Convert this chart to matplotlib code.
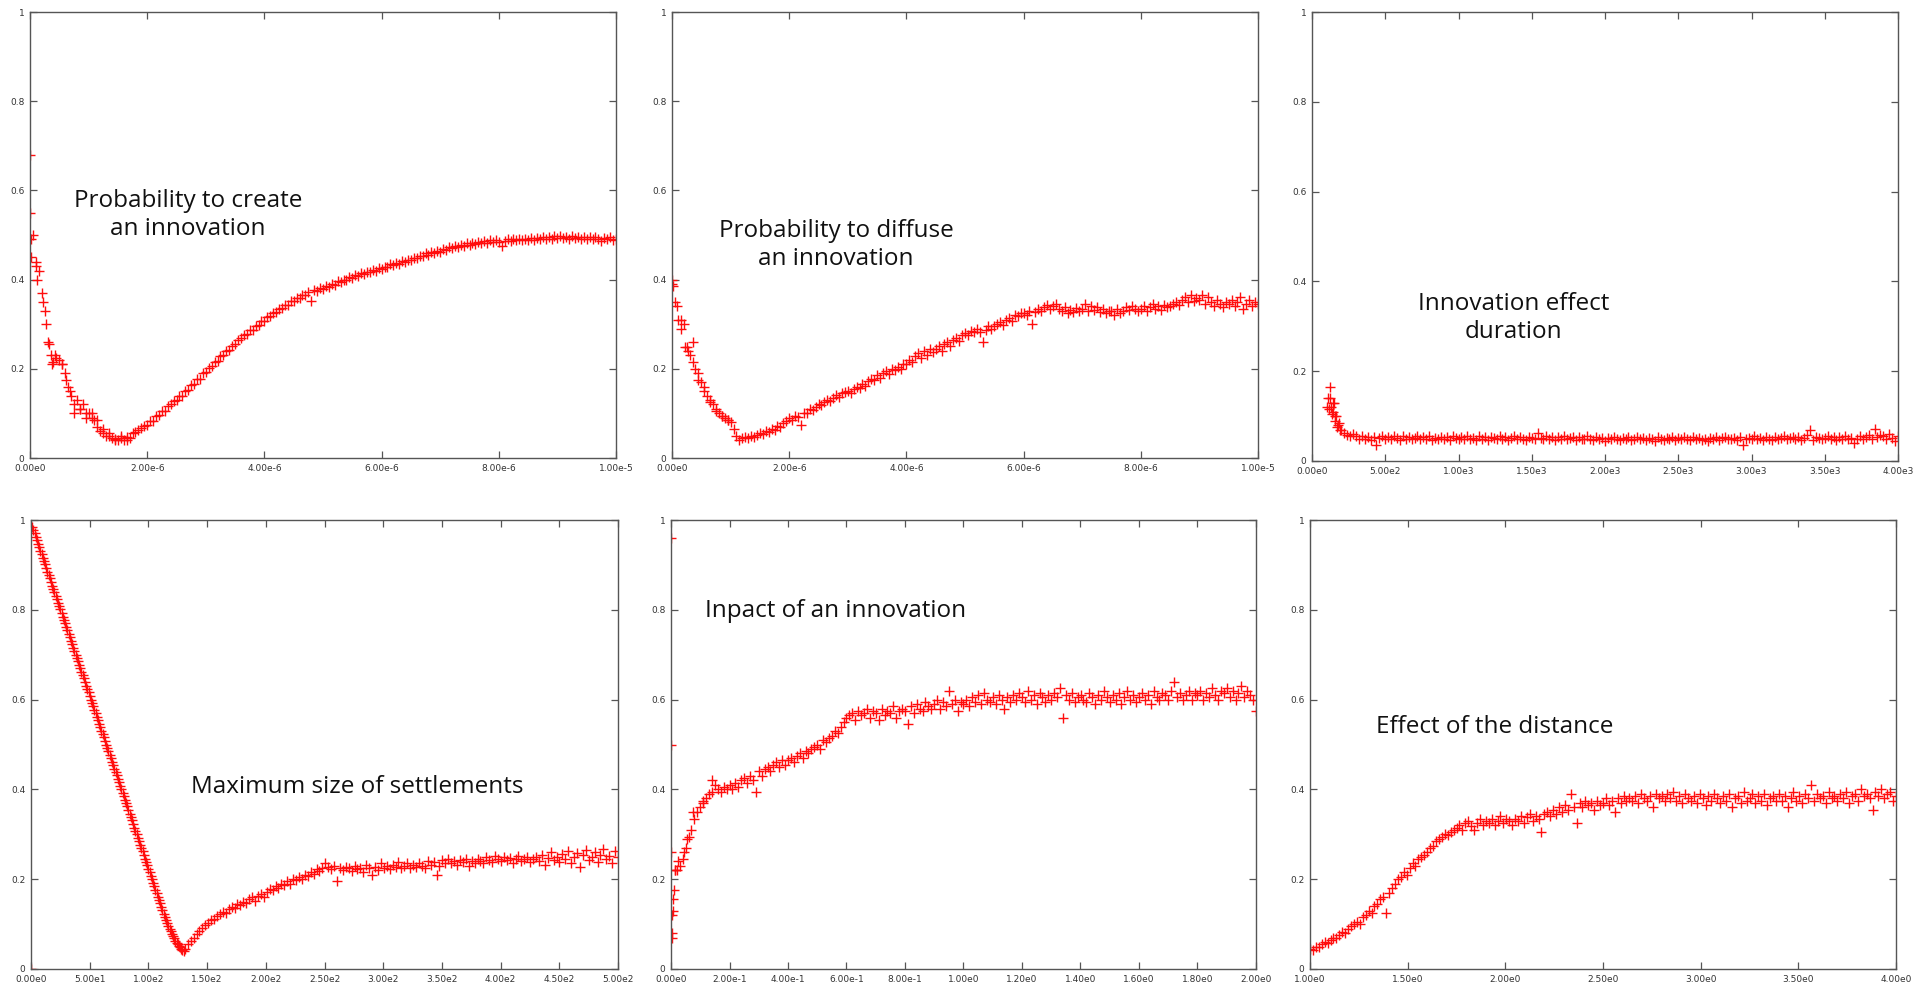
#%% IMPORTS               ~~~~~~~~~~~~~~~~~~~~~~~~~~~~~~~~~~~~~~~~~~~~
import matplotlib
matplotlib.use('Agg')
import matplotlib.pyplot as plt
import numpy as np

#%% DATA               ~~~~~~~~~~~~~~~~~~~~~~~~~~~~~~~~~~~~~~~~~~~~
# Every panel is a parameter sweep; y values.

# Probability to create an innovation (sweep 0 .. 1e-5, 201 steps)
create_y = [
    0.68, 0.50, 0.44, 0.42, 0.37, 0.33, 0.26, 0.23, 0.215, 0.225,
    0.22, 0.21, 0.19, 0.16, 0.14, 0.12, 0.13, 0.11, 0.12, 0.10,
    0.10, 0.09, 0.085, 0.07, 0.06, 0.055, 0.05, 0.05, 0.045, 0.042,
    0.04, 0.045, 0.04, 0.048, 0.045, 0.055, 0.058, 0.062, 0.068, 0.072,
    0.075, 0.084, 0.083, 0.094, 0.096, 0.106, 0.106, 0.117, 0.12, 0.128,
    0.13, 0.138, 0.14, 0.15, 0.153, 0.164, 0.166, 0.177, 0.178, 0.19,
    0.193, 0.202, 0.206, 0.216, 0.218, 0.228, 0.23, 0.24, 0.243, 0.252,
    0.255, 0.264, 0.268, 0.276, 0.278, 0.287, 0.288, 0.297, 0.298, 0.307,
    0.308, 0.316, 0.318, 0.326, 0.328, 0.335, 0.336, 0.344, 0.343, 0.352,
    0.351, 0.358, 0.358, 0.366, 0.365, 0.372, 0.352, 0.376, 0.374, 0.381,
    0.378, 0.385, 0.384, 0.39, 0.389, 0.396, 0.394, 0.4, 0.399, 0.405,
    0.403, 0.41, 0.408, 0.414, 0.412, 0.418, 0.416, 0.422, 0.419, 0.425,
    0.423, 0.429, 0.428, 0.434, 0.432, 0.438, 0.436, 0.442, 0.44, 0.445,
    0.443, 0.449, 0.448, 0.454, 0.453, 0.459, 0.456, 0.462, 0.46, 0.465,
    0.463, 0.469, 0.467, 0.472, 0.47, 0.476, 0.473, 0.478, 0.476, 0.481,
    0.478, 0.483, 0.48, 0.485, 0.482, 0.487, 0.483, 0.488, 0.484, 0.489,
    0.485, 0.476, 0.486, 0.49, 0.487, 0.491, 0.488, 0.492, 0.488, 0.492,
    0.489, 0.493, 0.488, 0.494, 0.49, 0.495, 0.49, 0.496, 0.491, 0.497,
    0.494, 0.497, 0.493, 0.496, 0.492, 0.497, 0.493, 0.496, 0.491, 0.496,
    0.491, 0.495, 0.49, 0.495, 0.492, 0.486, 0.494, 0.49, 0.495, 0.489, 0.492,
]
create_extra_x = [0.0, 0.01e-6, 0.02e-6, 0.1e-6, 0.12e-6, 0.22e-6, 0.27e-6, 0.32e-6,
                  0.37e-6, 0.42e-6, 0.55e-6, 0.62e-6, 0.68e-6, 0.75e-6, 0.85e-6,
                  0.95e-6, 1.05e-6, 1.15e-6, 1.25e-6, 1.35e-6, 1.45e-6, 1.55e-6, 1.65e-6]
create_extra_y = [0.55, 0.49, 0.45, 0.43, 0.40, 0.35, 0.30, 0.255,
                  0.21, 0.23, 0.21, 0.175, 0.15, 0.10, 0.11,
                  0.09, 0.10, 0.085, 0.065, 0.055, 0.04, 0.05, 0.04]

# Probability to diffuse an innovation (sweep 0 .. 1e-5, 201 steps)
diffuse_y = [
    0.39, 0.35, 0.31, 0.29, 0.30, 0.25, 0.23, 0.26, 0.20, 0.19,
    0.17, 0.15, 0.14, 0.13, 0.12, 0.105, 0.10, 0.095, 0.09, 0.085,
    0.08, 0.065, 0.05, 0.04, 0.045, 0.048, 0.044, 0.05, 0.047, 0.052,
    0.055, 0.053, 0.06, 0.058, 0.065, 0.062, 0.072, 0.07, 0.078, 0.082,
    0.09, 0.085, 0.095, 0.092, 0.075, 0.102, 0.1, 0.11, 0.107, 0.115,
    0.12, 0.118, 0.125, 0.13, 0.128, 0.135, 0.142, 0.137, 0.145, 0.148,
    0.15, 0.145, 0.155, 0.16, 0.158, 0.165, 0.162, 0.172, 0.178, 0.175,
    0.185, 0.18, 0.19, 0.195, 0.188, 0.2, 0.197, 0.205, 0.2, 0.21,
    0.21, 0.22, 0.215, 0.228, 0.235, 0.225, 0.24, 0.232, 0.245, 0.238,
    0.245, 0.252, 0.24, 0.256, 0.26, 0.252, 0.265, 0.27, 0.262, 0.275,
    0.28, 0.275, 0.285, 0.282, 0.29, 0.283, 0.26, 0.288, 0.295, 0.29,
    0.295, 0.3, 0.305, 0.298, 0.31, 0.315, 0.308, 0.32, 0.318, 0.325,
    0.325, 0.32, 0.33, 0.3, 0.328, 0.335, 0.33, 0.338, 0.342, 0.335,
    0.34, 0.345, 0.335, 0.33, 0.338, 0.325, 0.332, 0.328, 0.336, 0.33,
    0.335, 0.345, 0.33, 0.34, 0.332, 0.338, 0.328, 0.335, 0.325, 0.33,
    0.33, 0.32, 0.335, 0.325, 0.33, 0.338, 0.332, 0.34, 0.335, 0.33,
    0.335, 0.34, 0.33, 0.338, 0.345, 0.335, 0.34, 0.332, 0.342, 0.338,
    0.34, 0.345, 0.35, 0.342, 0.355, 0.36, 0.35, 0.365, 0.352, 0.358,
    0.355, 0.365, 0.345, 0.36, 0.35, 0.34, 0.355, 0.345, 0.338, 0.35,
    0.345, 0.355, 0.34, 0.35, 0.36, 0.335, 0.345, 0.355, 0.34, 0.35, 0.345,
]
diffuse_extra_x = [0.0, 0.02e-6, 0.08e-6, 0.15e-6, 0.22e-6, 0.28e-6, 0.35e-6,
                   0.45e-6, 0.55e-6, 0.65e-6, 0.75e-6, 0.85e-6, 0.95e-6]
diffuse_extra_y = [0.40, 0.385, 0.34, 0.31, 0.25, 0.24, 0.215,
                   0.175, 0.16, 0.125, 0.11, 0.095, 0.085]

# Innovation effect duration (sweep 100 .. 4000, 196 steps)
duration_y = [
    0.12, 0.165, 0.13, 0.10, 0.08, 0.07, 0.062, 0.058, 0.055, 0.06,
    0.055, 0.048, 0.056, 0.05, 0.053, 0.047, 0.054, 0.036, 0.052, 0.056,
    0.05, 0.054, 0.048, 0.056, 0.051, 0.047, 0.055, 0.05, 0.053, 0.049,
    0.052, 0.056, 0.048, 0.053, 0.05, 0.055, 0.047, 0.052, 0.05, 0.054,
    0.049, 0.053, 0.046, 0.055, 0.051, 0.048, 0.054, 0.05, 0.056, 0.049,
    0.052, 0.047, 0.055, 0.05, 0.053, 0.046, 0.054, 0.051, 0.049, 0.056,
    0.05, 0.054, 0.047, 0.052, 0.055, 0.048, 0.053, 0.05, 0.046, 0.054,
    0.051, 0.049, 0.063, 0.052, 0.048, 0.055, 0.05, 0.053, 0.047, 0.054,
    0.05, 0.056, 0.048, 0.052, 0.054, 0.047, 0.053, 0.05, 0.049, 0.055,
    0.05, 0.047, 0.053, 0.049, 0.052, 0.045, 0.051, 0.048, 0.054, 0.05,
    0.047, 0.052, 0.049, 0.053, 0.046, 0.05, 0.054, 0.048, 0.051, 0.047,
    0.052, 0.049, 0.045, 0.053, 0.05, 0.047, 0.052, 0.048, 0.054, 0.046,
    0.051, 0.048, 0.053, 0.05, 0.047, 0.054, 0.049, 0.052, 0.046, 0.05,
    0.044, 0.052, 0.049, 0.054, 0.047, 0.051, 0.053, 0.048, 0.05, 0.052,
    0.047, 0.054, 0.036, 0.05, 0.052, 0.048, 0.055, 0.049, 0.051, 0.047,
    0.053, 0.05, 0.046, 0.054, 0.049, 0.052, 0.056, 0.048, 0.051, 0.054,
    0.049, 0.053, 0.047, 0.052, 0.058, 0.068, 0.046, 0.054, 0.051, 0.048,
    0.052, 0.056, 0.049, 0.054, 0.047, 0.053, 0.05, 0.055, 0.048, 0.052,
    0.04, 0.05, 0.055, 0.048, 0.053, 0.057, 0.05, 0.072, 0.054, 0.058,
    0.055, 0.05, 0.06, 0.052, 0.045, 0.056,
]
duration_extra_x = [110, 115, 125, 130, 135, 145, 150, 155, 165, 170, 185, 190]
duration_extra_y = [0.14, 0.115, 0.14, 0.12, 0.105, 0.11, 0.13, 0.09, 0.1, 0.075, 0.085, 0.07]

# Maximum size of settlements: falling branch (0 .. 130, step 1)
settle_fall_y = [
    0.0,
    0.985, 0.978, 0.970, 0.962, 0.955, 0.947, 0.939, 0.931, 0.924, 0.916,
    0.908, 0.901, 0.893, 0.885, 0.878, 0.870, 0.862, 0.854, 0.847, 0.839,
    0.831, 0.824, 0.816, 0.808, 0.801, 0.793, 0.785, 0.777, 0.770, 0.762,
    0.754, 0.747, 0.739, 0.731, 0.724, 0.716, 0.708, 0.700, 0.693, 0.685,
    0.677, 0.670, 0.662, 0.654, 0.647, 0.639, 0.631, 0.623, 0.616, 0.608,
    0.600, 0.593, 0.585, 0.577, 0.570, 0.562, 0.554, 0.546, 0.539, 0.531,
    0.523, 0.516, 0.508, 0.500, 0.493, 0.485, 0.477, 0.469, 0.462, 0.454,
    0.446, 0.439, 0.431, 0.423, 0.416, 0.408, 0.400, 0.392, 0.385, 0.377,
    0.369, 0.362, 0.354, 0.346, 0.339, 0.331, 0.323, 0.315, 0.308, 0.300,
    0.292, 0.285, 0.277, 0.269, 0.262, 0.254, 0.246, 0.238, 0.231, 0.223,
    0.215, 0.208, 0.200, 0.192, 0.185, 0.177, 0.169, 0.161, 0.154, 0.146,
    0.138, 0.131, 0.123, 0.116, 0.109, 0.102, 0.096, 0.090, 0.084, 0.078,
    0.073, 0.068, 0.063, 0.059, 0.055, 0.051, 0.048, 0.045, 0.042, 0.040,
]
# rising branch (131 .. 500, 149 steps)
settle_rise_y = [
    0.045, 0.055, 0.062, 0.07, 0.078, 0.085, 0.092, 0.098, 0.103, 0.11,
    0.112, 0.118, 0.122, 0.127, 0.125, 0.133, 0.138, 0.135, 0.145, 0.142,
    0.15, 0.147, 0.155, 0.16, 0.152, 0.163, 0.168, 0.16, 0.172, 0.178,
    0.175, 0.185, 0.18, 0.19, 0.186, 0.195, 0.19, 0.2, 0.198, 0.205,
    0.2, 0.21, 0.207, 0.215, 0.212, 0.222, 0.218, 0.225, 0.235, 0.228,
    0.222, 0.23, 0.195, 0.226, 0.22, 0.228, 0.224, 0.218, 0.23, 0.222,
    0.226, 0.215, 0.232, 0.225, 0.21, 0.228, 0.22, 0.235, 0.224, 0.23,
    0.222, 0.232, 0.228, 0.238, 0.225, 0.23, 0.235, 0.226, 0.232, 0.228,
    0.236, 0.23, 0.225, 0.24, 0.232, 0.238, 0.21, 0.23, 0.242, 0.236,
    0.245, 0.235, 0.24, 0.232, 0.243, 0.238, 0.245, 0.23, 0.24, 0.236,
    0.245, 0.24, 0.235, 0.25, 0.243, 0.238, 0.252, 0.245, 0.24, 0.25,
    0.242, 0.248, 0.235, 0.245, 0.252, 0.24, 0.246, 0.25, 0.238, 0.244,
    0.25, 0.24, 0.255, 0.232, 0.248, 0.26, 0.242, 0.25, 0.238, 0.256,
    0.245, 0.262, 0.235, 0.25, 0.258, 0.228, 0.254, 0.265, 0.242, 0.25,
    0.26, 0.238, 0.255, 0.268, 0.245, 0.252, 0.235, 0.262, 0.25,
]

# Inpact of an innovation (sweep 0 .. 2, 201 steps)
impact_y = [
    0.50, 0.175, 0.22, 0.23, 0.245, 0.27, 0.295, 0.31, 0.335, 0.35,
    0.36, 0.375, 0.38, 0.39, 0.395, 0.41, 0.40, 0.395, 0.405, 0.40,
    0.41, 0.40, 0.415, 0.405, 0.42, 0.425, 0.415, 0.43, 0.42, 0.395,
    0.44, 0.43, 0.445, 0.45, 0.44, 0.455, 0.46, 0.45, 0.465, 0.455,
    0.465, 0.47, 0.46, 0.475, 0.48, 0.47, 0.485, 0.48, 0.49, 0.495,
    0.50, 0.49, 0.51, 0.505, 0.515, 0.52, 0.53, 0.525, 0.54, 0.55,
    0.56, 0.565, 0.57, 0.555, 0.575, 0.565, 0.57, 0.58, 0.56, 0.575,
    0.57, 0.555, 0.58, 0.565, 0.575, 0.57, 0.585, 0.56, 0.575, 0.58,
    0.575, 0.545, 0.585, 0.57, 0.59, 0.58, 0.575, 0.595, 0.585, 0.58,
    0.59, 0.6, 0.58, 0.595, 0.585, 0.62, 0.59, 0.6, 0.575, 0.595,
    0.59, 0.6, 0.585, 0.605, 0.595, 0.61, 0.59, 0.615, 0.6, 0.595,
    0.605, 0.59, 0.61, 0.6, 0.58, 0.605, 0.595, 0.61, 0.6, 0.615,
    0.605, 0.595, 0.62, 0.6, 0.61, 0.59, 0.615, 0.605, 0.595, 0.61,
    0.6, 0.615, 0.605, 0.625, 0.56, 0.61, 0.6, 0.615, 0.595, 0.605,
    0.61, 0.6, 0.595, 0.615, 0.605, 0.59, 0.61, 0.6, 0.62, 0.605,
    0.595, 0.61, 0.6, 0.615, 0.59, 0.605, 0.62, 0.6, 0.61, 0.595,
    0.605, 0.615, 0.6, 0.61, 0.59, 0.62, 0.605, 0.6, 0.615, 0.61,
    0.6, 0.62, 0.64, 0.605, 0.615, 0.6, 0.61, 0.62, 0.6, 0.615,
    0.61, 0.62, 0.6, 0.615, 0.605, 0.625, 0.61, 0.6, 0.62, 0.615,
    0.625, 0.605, 0.62, 0.6, 0.615, 0.63, 0.605, 0.62, 0.61, 0.6, 0.575,
]
impact_extra_x = [0.0, 0.0, 0.002, 0.003, 0.005, 0.006, 0.008, 0.012, 0.015,
                  0.025, 0.045, 0.055, 0.075, 0.11, 0.14]
impact_extra_y = [0.96, 0.26, 0.08, 0.07, 0.12, 0.13, 0.155, 0.22, 0.22,
                  0.24, 0.26, 0.29, 0.35, 0.37, 0.42]

# Effect of the distance (sweep 1 .. 4, 201 steps)
distance_y = [
    0.045, 0.042, 0.05, 0.048, 0.055, 0.06, 0.058, 0.065, 0.07, 0.068,
    0.075, 0.082, 0.08, 0.09, 0.095, 0.1, 0.105, 0.1, 0.115, 0.12,
    0.13, 0.125, 0.14, 0.145, 0.155, 0.16, 0.125, 0.17, 0.18, 0.19,
    0.2, 0.205, 0.215, 0.21, 0.225, 0.235, 0.23, 0.245, 0.25, 0.255,
    0.26, 0.27, 0.275, 0.285, 0.29, 0.295, 0.3, 0.298, 0.305, 0.31,
    0.315, 0.32, 0.31, 0.325, 0.33, 0.318, 0.31, 0.325, 0.335, 0.32,
    0.33, 0.325, 0.335, 0.32, 0.33, 0.34, 0.325, 0.335, 0.33, 0.32,
    0.335, 0.33, 0.34, 0.325, 0.338, 0.345, 0.33, 0.34, 0.335, 0.305,
    0.345, 0.35, 0.34, 0.355, 0.345, 0.36, 0.35, 0.365, 0.355, 0.39,
    0.36, 0.325, 0.37, 0.36, 0.375, 0.365, 0.37, 0.355, 0.375, 0.365,
    0.37, 0.38, 0.365, 0.375, 0.35, 0.38, 0.37, 0.385, 0.375, 0.38,
    0.375, 0.385, 0.37, 0.39, 0.38, 0.375, 0.385, 0.36, 0.39, 0.38,
    0.385, 0.375, 0.39, 0.38, 0.395, 0.375, 0.385, 0.37, 0.39, 0.38,
    0.375, 0.385, 0.37, 0.39, 0.38, 0.365, 0.385, 0.375, 0.39, 0.38,
    0.37, 0.385, 0.375, 0.39, 0.36, 0.38, 0.385, 0.37, 0.395, 0.375,
    0.38, 0.39, 0.37, 0.385, 0.375, 0.39, 0.365, 0.38, 0.385, 0.375,
    0.39, 0.375, 0.385, 0.36, 0.38, 0.395, 0.375, 0.385, 0.37, 0.39,
    0.38, 0.41, 0.375, 0.39, 0.38, 0.385, 0.37, 0.395, 0.38, 0.385,
    0.375, 0.39, 0.38, 0.395, 0.37, 0.385, 0.39, 0.375, 0.4, 0.385,
    0.39, 0.38, 0.355, 0.395, 0.385, 0.4, 0.38, 0.39, 0.395, 0.375, 0.385,
]

# Tick values / labels (gnuplot style)
y_ticks = [0, 0.2, 0.4, 0.6, 0.8, 1]
y_labels = ['0', '0.2', '0.4', '0.6', '0.8', '1']
prob_xticks = [0, 2e-6, 4e-6, 6e-6, 8e-6, 1e-5]
prob_xlabels = ['0.00e0', '2.00e-6', '4.00e-6', '6.00e-6', '8.00e-6', '1.00e-5']
duration_xticks = [0, 500, 1000, 1500, 2000, 2500, 3000, 3500, 4000]
duration_xlabels = ['0.00e0', '5.00e2', '1.00e3', '1.50e3', '2.00e3', '2.50e3',
                    '3.00e3', '3.50e3', '4.00e3']
settle_xticks = [0, 50, 100, 150, 200, 250, 300, 350, 400, 450, 500]
settle_xlabels = ['0.00e0', '5.00e1', '1.00e2', '1.50e2', '2.00e2', '2.50e2',
                  '3.00e2', '3.50e2', '4.00e2', '4.50e2', '5.00e2']
impact_xticks = [0, 0.2, 0.4, 0.6, 0.8, 1.0, 1.2, 1.4, 1.6, 1.8, 2.0]
impact_xlabels = ['0.00e0', '2.00e-1', '4.00e-1', '6.00e-1', '8.00e-1', '1.00e0',
                  '1.20e0', '1.40e0', '1.60e0', '1.80e0', '2.00e0']
distance_xticks = [1.0, 1.5, 2.0, 2.5, 3.0, 3.5, 4.0]
distance_xlabels = ['1.00e0', '1.50e0', '2.00e0', '2.50e0', '3.00e0', '3.50e0', '4.00e0']

#%% FIGURE               ~~~~~~~~~~~~~~~~~~~~~~~~~~~~~~~~~~~~~~~~~~~~
W, H = 1928, 986
fig = plt.figure(figsize=(W / 100, H / 100), dpi=100)
fig.patch.set_facecolor('white')

# pixel boxes (left, top, right, bottom) of each plot frame
def make_axes(box):
    l, t, r, b = box
    return fig.add_axes([l / W, 1 - b / H, (r - l) / W, (b - t) / H])
#

def style_axes(ax, xlim, xticks, xlabels):
    ax.set_xlim(*xlim)
    ax.set_ylim(0, 1)
    ax.set_xticks(xticks)
    ax.set_xticklabels(xlabels)
    ax.set_yticks(y_ticks)
    ax.set_yticklabels(y_labels)
    for s in ax.spines.values():
        s.set_color('#555555')
        s.set_linewidth(1.0)
    ax.tick_params(direction='in', length=5, width=0.9, color='#555555',
                   top=True, right=True, labelsize=6.5, labelcolor='#333333',
                   pad=4)
#

def scatter(ax, x, y):
    ax.plot(x, y, linestyle='none', marker='+', markersize=6.8,
            markeredgewidth=1.0, color='#ff0d0d')
#

label_font = dict(family='Open Sans', fontsize=17.5, color='#111111',
                  ha='center', va='center', linespacing=1.2)

# Panel 1: create
ax = make_axes((30, 12, 616, 458))
scatter(ax, np.linspace(0, 1e-5, len(create_y)), create_y)
scatter(ax, create_extra_x, create_extra_y)
style_axes(ax, (0, 1e-5), prob_xticks, prob_xlabels)
ax.text(0.27, 0.545, 'Probability to create\nan innovation', transform=ax.transAxes, **label_font)

# Panel 2: diffuse
ax = make_axes((672, 12, 1258, 458))
scatter(ax, np.linspace(0, 1e-5, len(diffuse_y)), diffuse_y)
scatter(ax, diffuse_extra_x, diffuse_extra_y)
style_axes(ax, (0, 1e-5), prob_xticks, prob_xlabels)
ax.text(0.28, 0.478, 'Probability to diffuse\nan innovation', transform=ax.transAxes, **label_font)

# Panel 3: duration
ax = make_axes((1312, 12, 1898, 461))
scatter(ax, np.linspace(100, 4000, len(duration_y)), duration_y)
scatter(ax, duration_extra_x, duration_extra_y)
style_axes(ax, (0, 4000), duration_xticks, duration_xlabels)
ax.text(0.344, 0.318, 'Innovation effect\nduration', transform=ax.transAxes, **label_font)

# Panel 4: settlements
ax = make_axes((31, 520, 618, 969))
scatter(ax, np.linspace(0, 130, len(settle_fall_y)), settle_fall_y)
scatter(ax, np.linspace(131, 500, len(settle_rise_y)), settle_rise_y)
style_axes(ax, (0, 500), settle_xticks, settle_xlabels)
ax.text(0.555, 0.405, 'Maximum size of settlements', transform=ax.transAxes, **label_font)

# Panel 5: impact
ax = make_axes((671, 520, 1256, 969))
scatter(ax, np.linspace(0, 2, len(impact_y)), impact_y)
scatter(ax, impact_extra_x, impact_extra_y)
style_axes(ax, (0, 2), impact_xticks, impact_xlabels)
ax.text(0.282, 0.797, 'Inpact of an innovation', transform=ax.transAxes, **label_font)

# Panel 6: distance
ax = make_axes((1310, 520, 1896, 969))
scatter(ax, np.linspace(1, 4, len(distance_y)), distance_y)
style_axes(ax, (1, 4), distance_xticks, distance_xlabels)
ax.text(0.315, 0.539, 'Effect of the distance', transform=ax.transAxes, **label_font)

fig.savefig('out.png', dpi=100, facecolor='white')
